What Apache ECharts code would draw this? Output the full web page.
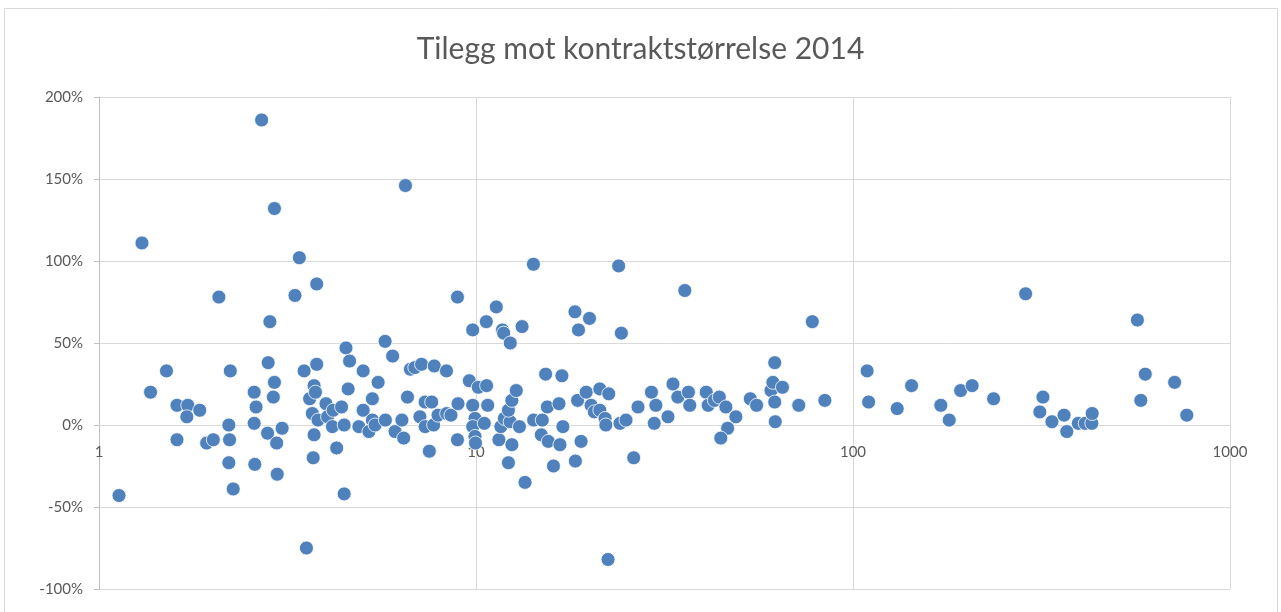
<!DOCTYPE html>
<html style="height: 100%">
    <head>
        <meta charset="utf-8">
        <script src="https://cdn.jsdelivr.net/npm/echarts@6/dist/echarts.min.js"></script>
    </head>
    <body style="height: 100%; margin: 0; background-color: #ffffff">
        <div id="container" style="width: 1281px; height: 612px"></div>
        <script type="text/javascript">
        // kontraktstørrelse (x, log-skala)
        var storrelse = [1.13, 1.30, 1.37, 1.51, 1.61, 1.61, 1.72, 1.71, 1.85, 1.93,
            2.01, 2.08, 2.23, 2.21, 2.22, 2.21, 2.27, 2.58, 2.61, 2.58,
            2.59, 2.70, 2.81, 2.80, 2.84, 2.92, 2.92, 2.90, 2.96, 2.97,
            3.06, 3.31, 3.40, 3.50, 3.55, 3.62, 3.72, 3.75, 3.68, 3.72,
            3.70, 3.78, 3.78, 3.81, 4.00, 4.04, 4.18, 4.16, 4.27, 4.40,
            4.47, 4.47, 4.52, 4.62, 4.58, 5.02, 4.89, 5.02, 5.31, 5.31,
            5.20, 5.40, 5.50, 5.74, 6.01, 5.75, 6.10, 6.43, 6.36, 6.50,
            6.58, 6.70, 6.88, 7.17, 7.75, 8.35, 7.10, 7.33, 7.63, 7.33,
            7.52, 7.72, 7.93, 8.36, 8.58, 8.96, 8.93, 8.93, 9.60, 9.80,
            9.80, 10.14, 10.67, 9.94, 9.80, 9.94, 9.97, 10.52, 10.74, 10.65,
            11.32, 11.75, 11.84, 12.33, 13.25, 11.5, 11.64, 11.89, 12.32, 12.19,
            12.45, 12.79, 13.04, 12.45, 12.19, 13.49, 14.2, 14.22, 14.99, 14.9,
            15.3, 15.46, 15.55, 16.05, 16.6, 16.9, 17.0, 16.7, 18.3, 18.7,
            18.35, 18.6, 19.0, 19.6, 20.0, 20.2, 20.6, 21.3, 21.3, 22.0,
            22.1, 22.5, 22.4, 23.9, 24.1, 25.0, 24.3, 26.2, 26.9, 29.2,
            30.0, 29.7, 32.3, 33.3, 34.3, 35.8, 36.6, 36.9, 40.8, 41.3,
            42.9, 44.2, 46.0, 48.9, 46.5, 44.6, 53.4, 55.5, 60.6, 61.3,
            62.0, 65.0, 62.0, 62.2, 71.8, 78.0, 84.2, 109, 110, 131,
            143, 171, 180, 193, 207, 236, 287, 319, 313, 337,
            363, 369, 396, 413, 430, 431, 568, 580, 596, 713,
            768];
        // tillegg i prosent (y)
        var tillegg = [-43, 111, 20, 33, 12, -9, 12, 5, 9, -11,
            -9, 78, 33, 0, -9, -23, -39, 20, 11, 1,
            -24, 186, 38, -5, 63, 132, 26, 17, -11, -30,
            -2, 79, 102, 33, -75, 16, 24, 20, 7, -6,
            -20, 86, 37, 3, 13, 5, 9, -1, -14, 11,
            0, -42, 47, 39, 22, 33, -1, 9, 16, 3,
            -4, 0, 26, 51, 42, 3, -4, -8, 3, 146,
            17, 34, 35, 37, 36, 33, 5, 14, 14, -1,
            -16, 0, 6, 7, 6, 13, -9, 78, 27, 58,
            12, 23, 24, 4, -1, -7, -11, 1, 12, 63,
            72, 58, 56, 50, 60, -9, -1, 4, 2, 9,
            15, 21, -1, -12, -23, -35, 98, 3, 3, -6,
            31, 11, -10, -25, 13, 30, -1, -12, 69, 58,
            -22, 15, -10, 20, 65, 12, 8, 22, 9, 4,
            0, 19, -82, 97, 1, 3, 56, -20, 11, 20,
            12, 1, 5, 25, 17, 82, 20, 12, 20, 12,
            15, 17, 11, 5, -2, -8, 16, 12, 21, 26,
            38, 23, 14, 2, 12, 63, 15, 33, 14, 10,
            24, 12, 3, 21, 24, 16, 80, 17, 8, 2,
            6, -4, 1, 1, 1, 7, 64, 15, 31, 26,
            6];
        var tittel = 'Tilegg mot kontraktstørrelse 2014';

        var punkter = [];
        for (var i = 0; i < storrelse.length; i++) {
            punkter.push([storrelse[i], tillegg[i]]);
        }

        var chart = echarts.init(document.getElementById('container'));
        var option = {
            backgroundColor: '#ffffff',
            animation: false,
            title: {
                text: tittel,
                left: 'center',
                top: 29,
                textStyle: {
                    fontFamily: 'Lato',
                    fontSize: 30,
                    fontWeight: 'normal',
                    color: '#595959'
                }
            },
            graphic: [{
                type: 'rect',
                shape: { x: 4.5, y: 8.5, width: 1273, height: 620 },
                style: { fill: 'none', stroke: '#D9D9D9', lineWidth: 1 },
                silent: true
            }],
            grid: {
                left: 99,
                right: 51,
                top: 97,
                bottom: 23,
                outerBoundsMode: 'none'
            },
            xAxis: {
                type: 'log',
                logBase: 10,
                min: 1,
                max: 1000,
                axisLine: { onZero: false, lineStyle: { color: '#D9D9D9' } },
                axisTick: { show: false },
                axisLabel: {
                    margin: 20,
                    fontFamily: 'Lato',
                    fontSize: 15,
                    color: '#595959',
                    formatter: function (v) { return String(v); }
                },
                splitLine: { show: true, lineStyle: { color: '#D9D9D9' } }
            },
            yAxis: {
                type: 'value',
                min: -100,
                max: 200,
                interval: 50,
                axisLine: { show: true, lineStyle: { color: '#BFBFBF' } },
                axisTick: { show: true, length: 5, lineStyle: { color: '#BFBFBF' } },
                axisLabel: {
                    margin: 16,
                    formatter: '{value}%',
                    fontFamily: 'Lato',
                    fontSize: 15,
                    color: '#595959'
                },
                splitLine: { lineStyle: { color: '#D9D9D9' } }
            },
            series: [{
                name: 'Tillegg',
                type: 'scatter',
                symbol: 'circle',
                symbolSize: 14,
                itemStyle: {
                    color: '#4F81BD',
                    borderColor: '#ffffff',
                    borderWidth: 0.8,
                    opacity: 1
                },
                data: punkter
            }]
        };
        chart.setOption(option);

        // flytt x-aksen opp til 0 %-linja (som i Excel)
        var yBunn = chart.convertToPixel({ yAxisIndex: 0 }, -100);
        var yNull = chart.convertToPixel({ yAxisIndex: 0 }, 0);
        chart.setOption({ xAxis: { offset: -(yBunn - yNull) } });
        </script>
    </body>
</html>
